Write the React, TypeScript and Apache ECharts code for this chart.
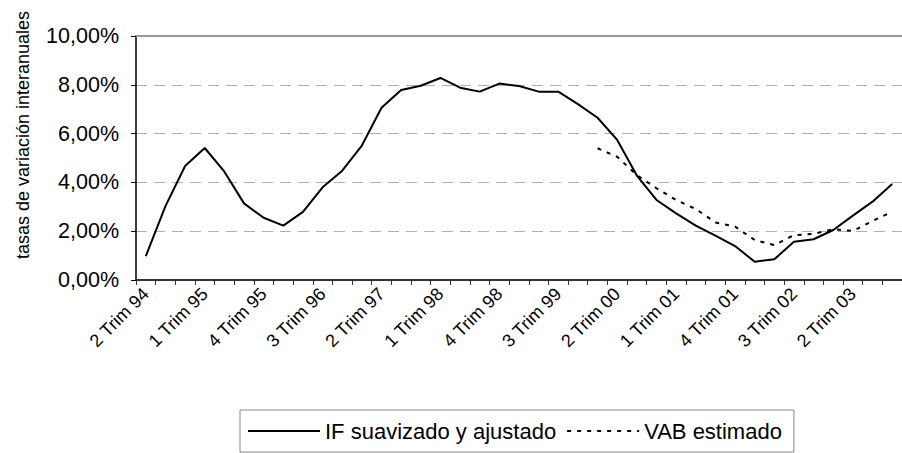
import React, { useEffect, useRef } from "react";
import * as echarts from "echarts";

const categories = [
  "2 Trim 94", "3 Trim 94", "4 Trim 94",
  "1 Trim 95", "2 Trim 95", "3 Trim 95", "4 Trim 95",
  "1 Trim 96", "2 Trim 96", "3 Trim 96", "4 Trim 96",
  "1 Trim 97", "2 Trim 97", "3 Trim 97", "4 Trim 97",
  "1 Trim 98", "2 Trim 98", "3 Trim 98", "4 Trim 98",
  "1 Trim 99", "2 Trim 99", "3 Trim 99", "4 Trim 99",
  "1 Trim 00", "2 Trim 00", "3 Trim 00", "4 Trim 00",
  "1 Trim 01", "2 Trim 01", "3 Trim 01", "4 Trim 01",
  "1 Trim 02", "2 Trim 02", "3 Trim 02", "4 Trim 02",
  "1 Trim 03", "2 Trim 03", "3 Trim 03", "4 Trim 03",
];

const ifSuavizado = [
  0.98, 3.03, 4.67, 5.41, 4.44, 3.14, 2.55, 2.23, 2.79, 3.8, 4.48, 5.51,
  7.06, 7.79, 7.96, 8.28, 7.88, 7.72, 8.05, 7.95, 7.72, 7.72, 7.21, 6.65,
  5.74, 4.28, 3.28, 2.73, 2.23, 1.82, 1.39, 0.75, 0.85, 1.57, 1.67, 2.05,
  2.64, 3.21, 3.93,
];

const vabEstimado = [
  null, null, null, null, null, null, null, null, null, null, null, null,
  null, null, null, null, null, null, null, null, null, null, null, 5.4,
  5.05, 4.3, 3.76, 3.28, 2.91, 2.36, 2.19, 1.64, 1.43, 1.84, 1.89, 2.08,
  2.01, 2.42, 2.8,
];

const yTicks = [0, 2, 4, 6, 8, 10];

const FONT = "'Liberation Sans', Arial, sans-serif";

export default function App() {
  const ref = useRef<HTMLDivElement>(null);
  useEffect(() => {
    if (!ref.current) return;
    const chart = echarts.init(ref.current, null, { renderer: "svg" });
    chart.setOption({
      animation: false,
      backgroundColor: "#ffffff",
      textStyle: { fontFamily: FONT },
      grid: { left: 136, top: 36, width: 766, height: 244, containLabel: false },
      xAxis: [
        {
          type: "category",
          data: categories,
          boundaryGap: true,
          axisLine: { show: true, lineStyle: { color: "#333", width: 2 } },
          axisTick: { show: true, interval: 0, length: 5, lineStyle: { color: "#333", width: 1 } },
          axisLabel: {
            interval: 2,
            rotate: 45,
            fontSize: 18,
            color: "#000",
            margin: 11,
            fontFamily: FONT,
          },
          splitLine: { show: false },
        },
        {
          type: "category",
          data: categories,
          position: "top",
          axisLine: { show: true, lineStyle: { color: "#999", width: 2 } },
          axisTick: { show: false },
          axisLabel: { show: false },
          splitLine: { show: false },
        },
      ],
      yAxis: {
        type: "value",
        min: yTicks[0],
        max: yTicks[yTicks.length - 1],
        interval: 2,
        axisLine: { show: true, lineStyle: { color: "#000", width: 1.5 } },
        axisTick: { show: true, length: 5, lineStyle: { color: "#000", width: 1 } },
        axisLabel: {
          formatter: (v: number) => v.toFixed(2).replace(".", ",") + "%",
          fontSize: 21.5,
          color: "#000",
          margin: 17,
          fontFamily: FONT,
        },
        splitLine: { show: true, lineStyle: { color: "#b0b0b0", type: [11, 7], width: 1 } },
      },
      legend: {
        left: 240,
        top: 410,
        orient: "horizontal",
        itemWidth: 72,
        itemHeight: 14,
        itemGap: 10,
        padding: [10, 12, 10, 7],
        borderColor: "#888",
        borderWidth: 1,
        itemStyle: { opacity: 0 },
        textStyle: { fontSize: 22, color: "#000", fontFamily: FONT },
        data: ["IF suavizado y ajustado", "VAB estimado"],
      },
      graphic: [
        {
          type: "text",
          x: 23,
          y: 135,
          rotation: Math.PI / 2,
          style: {
            text: "tasas de variación interanuales",
            fontSize: 18,
            fontFamily: FONT,
            fill: "#000",
            align: "center",
            verticalAlign: "middle",
          },
        },
      ],
      series: [
        {
          name: "IF suavizado y ajustado",
          type: "line",
          data: ifSuavizado,
          symbol: "none",
          lineStyle: { color: "#000", width: 2, type: "solid" },
          itemStyle: { color: "#000" },
        },
        {
          name: "VAB estimado",
          type: "line",
          data: vabEstimado,
          symbol: "none",
          connectNulls: false,
          lineStyle: { color: "#000", width: 2, type: [4, 6] },
          itemStyle: { color: "#000" },
        },
      ],
    });
    return () => chart.dispose();
  }, []);
  return (
    <div
      ref={ref}
      style={{ position: "absolute", left: 0, top: 0, width: 902, height: 453 }}
    />
  );
}
